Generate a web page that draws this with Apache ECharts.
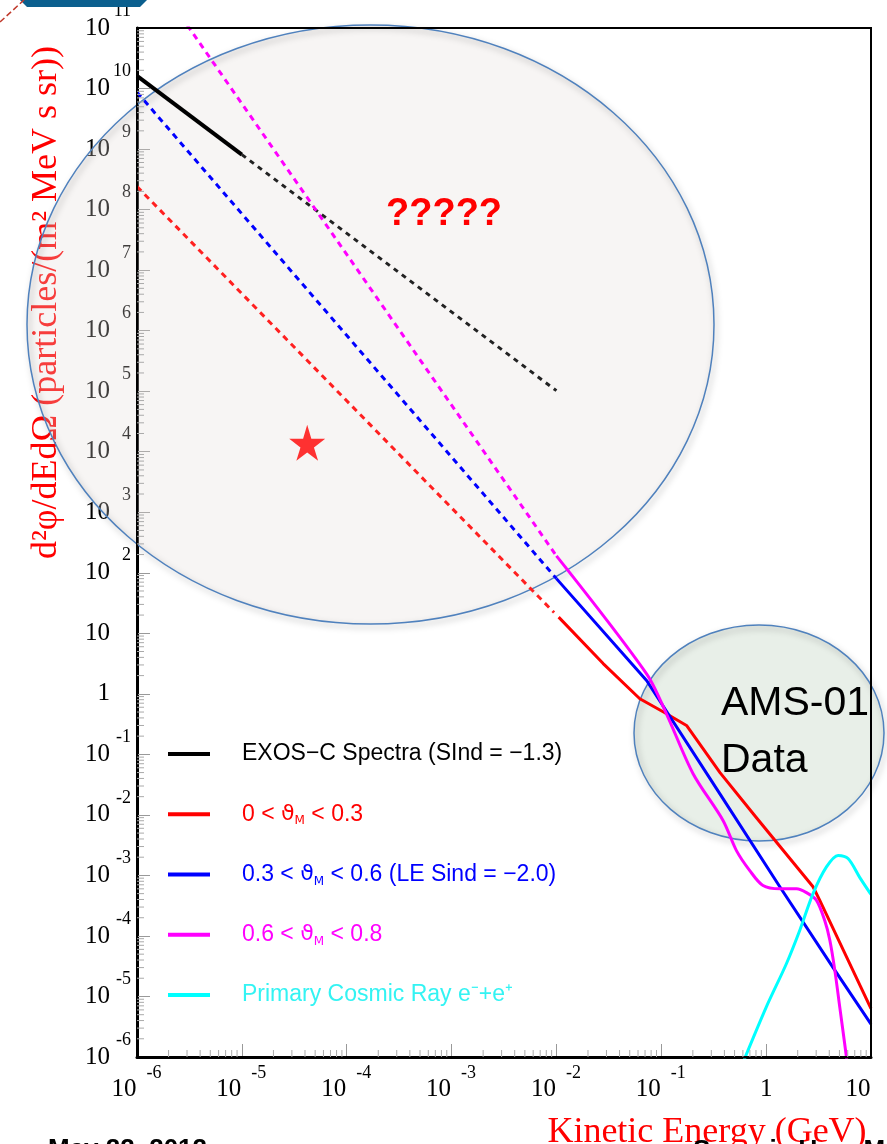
<!DOCTYPE html>
<html><head><meta charset="utf-8">
<script src="https://cdn.jsdelivr.net/npm/echarts@6/dist/echarts.min.js"></script>
<style>html,body{margin:0;padding:0;background:#fff}#c{width:887px;height:1144px}</style>
</head><body><div id="c"></div>
<script>
// ---- tick labels (exponents of 10) ----
const xTickExponents = [-6, -5, -4, -3, -2, -1, 0, 1];
const yTickExponents = [-6, -5, -4, -3, -2, -1, 0, 1, 2, 3, 4, 5, 6, 7, 8, 9, 10, 11];
const minorMultipliers = [2, 3, 4, 5, 6, 7, 8, 9];
const xTickValues = xTickExponents.map(e => Math.pow(10, e));
const yTickValues = yTickExponents.map(e => Math.pow(10, e));

// ---- series names ----
const nameBlack = 'EXOS\u2212C Spectra (SInd = \u22121.3)';
const nameRed = '0 < \u03d1M < 0.3';
const nameBlue = '0.3 < \u03d1M < 0.6 (LE Sind = \u22122.0)';
const nameMag = '0.6 < \u03d1M < 0.8';
const nameCyan = 'Primary Cosmic Ray e\u207b+e\u207a';

// ---- data [kinetic energy GeV, flux] ----
const blackSolid = [[1e-6, 1.62e10], [1e-5, 8.1e8]];
const blackDashed = [[1e-5, 8.1e8], [1e-2, 1.02e5]];
const redDashed = [[1e-6, 2.4e8], [9.5e-3, 22]];
const redSolid = [[0.0105, 18.5], [0.0279, 3.16], [0.0624, 0.83], [0.105, 0.50], [0.174, 0.30], [0.363, 0.050], [0.794, 9.3e-3], [2.80, 6.5e-4], [3.24, 3.9e-4], [10, 6.3e-6]];
const blueDashed = [[1e-6, 8.7e9], [1e-2, 80]];
const blueSolid = [[0.01, 80], [0.0724, 1.66], [0.361, 0.0224], [1.35, 6.5e-4], [4.35, 3.0e-5], [10, 3.5e-6]];
const magentaDashed = [[1e-6, 1.74e12], [1e-2, 190]];
const magentaSolid = [[0.01, 190], [0.0724, 2.14], [0.112, 0.468], [0.201, 0.0479], [0.388, 8.1e-3], [0.521, 2.57e-3], [0.698, 1.2e-3], [0.933, 6.8e-4], [1.35, 6.0e-4], [1.95, 6.0e-4], [2.42, 5.2e-4], [3.01, 3.9e-4], [3.62, 1.8e-4], [4.05, 8.5e-5], [4.52, 2.7e-5], [5.04, 6.6e-6], [5.83, 1e-6], [6.2, 4e-7]];
const cyanSolid = [[0.56, 6e-7], [1.0, 6.6e-6], [1.56, 3.47e-5], [2.09, 1.23e-4], [2.8, 5.0e-4], [3.76, 1.38e-3], [4.85, 2.14e-3], [6.04, 1.9e-3], [7.8, 9.3e-4], [9.73, 5.2e-4], [10, 4.9e-4]];
const starPoint = [[4.2e-5, 1.4e4]];

// ---- minor tick values (axis decoration) ----
const xMin = 1e-6, yMin = 1e-6;
const minorTicks = [];
for (let e = -6; e < 1; e++) minorMultipliers.forEach(k => minorTicks.push([k * Math.pow(10, e), yMin, 0]));
for (let e = -6; e < 11; e++) minorMultipliers.forEach(k => minorTicks.push([xMin, k * Math.pow(10, e), 1]));

const serif = 'Liberation Serif';
const expOf = v => Math.round(Math.log10(v));

const chart = echarts.init(document.getElementById('c'), null, {renderer: 'canvas'});

function lineSeries(name, data, color, width, dashed) {
  return {
    type: 'line', name: name, data: data, showSymbol: false, symbol: 'none', clip: true,
    animation: false, silent: true, z: 3,
    itemStyle: {color: color},
    lineStyle: {color: color, width: width, type: dashed ? dashed : 'solid', cap: 'butt', join: 'round'}
  };
}

const thRich = {};
[['r', '#ff0000'], ['b', '#0000ff'], ['m', '#ff00ff']].forEach(([k, c]) => {
  thRich['th' + k] = {color: c, fontFamily: 'DejaVu Sans', fontSize: 22, lineHeight: 26, verticalAlign: 'middle'};
  thRich['sub' + k] = {color: c, fontFamily: 'DejaVu Sans', fontSize: 12, lineHeight: 13, verticalAlign: 'bottom'};
});

const option = {
  backgroundColor: '#ffffff',
  animation: false,
  grid: {left: 137, top: 28, right: 16, bottom: 87, containLabel: false, outerBoundsMode: 'none',
         show: true, borderColor: '#000', borderWidth: 2, backgroundColor: 'transparent', z: 4},
  xAxis: {
    type: 'log', logBase: 10, min: 1e-6, max: 10, splitNumber: 7,
    axisLine: {show: true, onZero: false, lineStyle: {color: '#000', width: 3}},
    axisTick: {show: true, inside: true, length: 13, customValues: xTickValues, lineStyle: {color: '#999', width: 1}},
    splitLine: {show: false}, minorTick: {show: false},
    axisLabel: {
      show: true, margin: 7, showMinLabel: true, showMaxLabel: true, hideOverlap: false, customValues: xTickValues,
      formatter: v => { const e = expOf(v); if (e === 0) return '{b|1}'; if (e === 1) return '{b|10}{pad| }'; return '{b|10}{e|' + e + '}'; },
      rich: {
        b: {fontFamily: serif, fontSize: 25, lineHeight: 51, verticalAlign: 'middle', color: '#000'},
        e: {fontFamily: serif, fontSize: 18, lineHeight: 19, verticalAlign: 'top', width: 17, padding: [0, 0, 0, 9], align: 'left', color: '#000'},
        pad: {fontSize: 10, width: 26, lineHeight: 51}
      }
    },
    name: 'Kinetic Energy (GeV)', nameLocation: 'middle', nameGap: 58,
    nameTextStyle: {color: '#ff0000', fontFamily: serif, fontSize: 36, padding: [0, 0, 0, 406]}
  },
  yAxis: {
    type: 'log', logBase: 10, min: 1e-6, max: 1e11, splitNumber: 17,
    axisLine: {show: true, onZero: false, lineStyle: {color: '#000', width: 3}},
    axisTick: {show: true, inside: true, length: 13, customValues: yTickValues, lineStyle: {color: '#999', width: 1}},
    splitLine: {show: false}, minorTick: {show: false},
    axisLabel: {
      show: true, margin: 6, showMinLabel: true, showMaxLabel: true, hideOverlap: false, customValues: yTickValues,
      formatter: v => { const e = expOf(v); if (e === 0) return '{b|1}{pad| }'; if (e === 1) return '{b|10}{pad| }'; return '{b|10}{e|' + e + '}'; },
      rich: {
        b: {fontFamily: serif, fontSize: 25, lineHeight: 52, verticalAlign: 'middle', color: '#000'},
        e: {fontFamily: serif, fontSize: 18, lineHeight: 20, verticalAlign: 'top', width: 21, align: 'right', color: '#000'},
        pad: {fontSize: 10, width: 21, lineHeight: 52}
      }
    },
    name: 'd\u00b2\u03c6/dEd\u03a9 (particles/(m\u00b2 MeV s sr))', nameLocation: 'middle', nameGap: 72, nameRotate: 90,
    nameTextStyle: {color: '#ff0000', fontFamily: serif, fontSize: 36, padding: [0, 0, 0, 480]}
  },
  legend: {
    show: true, orient: 'vertical', left: 168, top: 741, itemWidth: 42, itemHeight: 4, itemGap: 34.25,
    icon: 'rect', selectedMode: false, backgroundColor: 'transparent', padding: 0,
    textStyle: {fontFamily: 'Liberation Sans', fontSize: 23, lineHeight: 26, padding: [0, 0, 0, 27], rich: thRich},
    formatter: name => {
      const k = name === nameRed ? 'r' : name === nameBlue ? 'b' : 'm';
      return name.replace('\u03d1M', '{th' + k + '|\u03d1}{sub' + k + '|M}');
    },
    data: [
      {name: nameBlack, textStyle: {color: '#000000'}},
      {name: nameRed, textStyle: {color: '#ff0000'}},
      {name: nameBlue, textStyle: {color: '#0000ff'}},
      {name: nameMag, textStyle: {color: '#ff00ff'}},
      {name: nameCyan, textStyle: {color: '#33f3f3'}}
    ]
  },
  graphic: [
    // big "?????" ellipse: light fill + outline with soft shadow
    {type: 'ellipse', z: 1, silent: true, shape: {cx: 370.5, cy: 324.5, rx: 343.5, ry: 299.5},
     style: {fill: 'rgba(225,220,215,0.28)', stroke: null}},
    {type: 'ellipse', z: 1, silent: true, shape: {cx: 370.5, cy: 324.5, rx: 343.5, ry: 299.5},
     style: {fill: null, stroke: '#4f81bd', lineWidth: 1.5,
             shadowBlur: 6, shadowOffsetX: 2, shadowOffsetY: 3, shadowColor: 'rgba(0,0,0,0.35)'}},
    // AMS-01 ellipse
    {type: 'ellipse', z: 1, silent: true, shape: {cx: 759, cy: 733, rx: 125, ry: 108},
     style: {fill: 'rgba(205,220,205,0.45)', stroke: null}},
    {type: 'ellipse', z: 1, silent: true, shape: {cx: 759, cy: 733, rx: 125, ry: 108},
     style: {fill: null, stroke: '#4f81bd', lineWidth: 1.5,
             shadowBlur: 6, shadowOffsetX: 2, shadowOffsetY: 3, shadowColor: 'rgba(0,0,0,0.35)'}},
    {type: 'text', z: 10, silent: true, left: 721, top: 675,
     style: {text: 'AMS-01\nData', fill: '#000', font: '41px "Liberation Sans"', lineHeight: 57}},
    {type: 'text', z: 10, silent: true, left: 386, top: 196,
     style: {text: '?????', fill: '#ff0000', font: 'bold 38px "Liberation Sans"'}},
    // slide decorations
    {type: 'polygon', z: 10, silent: true, shape: {points: [[20, 0], [147, 0], [140, 7], [27, 7]]}, style: {fill: '#0b5f8e'}},
    {type: 'line', z: 10, silent: true, shape: {x1: 0, y1: 22, x2: 24, y2: 0}, style: {stroke: '#c0392b', lineWidth: 1.5, lineDash: [6, 3]}},
    {type: 'text', z: 10, silent: true, left: 48, top: 1137,
     style: {text: 'May 22, 2012', fill: '#000', font: 'bold 26px "Liberation Sans"'}},
    {type: 'text', z: 10, silent: true, left: 693, top: 1138,
     style: {text: 'Spacvis User Meeting', fill: '#000', font: 'bold 26px "Liberation Sans"'}}
  ],
  series: [
    lineSeries(nameBlack, blackSolid, '#000000', 4, null),
    lineSeries(nameBlack, blackDashed, '#222222', 3, [5, 5]),
    lineSeries(nameRed, redSolid, '#ff0000', 3, null),
    lineSeries(nameRed, redDashed, '#ff2020', 3, [6, 5]),
    lineSeries(nameBlue, blueSolid, '#0000ff', 3, null),
    lineSeries(nameBlue, blueDashed, '#0000ff', 3, [6, 5]),
    Object.assign(lineSeries(nameMag, magentaSolid, '#ff00ff', 3, null), {smooth: 0.3}),
    lineSeries(nameMag, magentaDashed, '#ff00ff', 3, [6, 5]),
    Object.assign(lineSeries(nameCyan, cyanSolid, '#00ffff', 3, null), {smooth: 0.3}),
    {type: 'scatter', data: starPoint, symbol: 'path://M50,0 L61,35 L98,35 L68,57 L79,91 L50,70 L21,91 L32,57 L2,35 L39,35 Z',
     symbolSize: 36, itemStyle: {color: '#ff0000'}, silent: true, z: 5},
    {type: 'custom', data: minorTicks, silent: true, z: 5, clip: false,
     renderItem: (params, api) => {
       const p = api.coord([api.value(0), api.value(1)]);
       const vert = api.value(2) === 0;
       return {type: 'line', shape: vert ? {x1: p[0], y1: p[1], x2: p[0], y2: p[1] - 7} : {x1: p[0], y1: p[1], x2: p[0] + 7, y2: p[1]},
               style: {stroke: '#aaa', lineWidth: 1}};
     }}
  ]
};
chart.setOption(option);
</script></body></html>
